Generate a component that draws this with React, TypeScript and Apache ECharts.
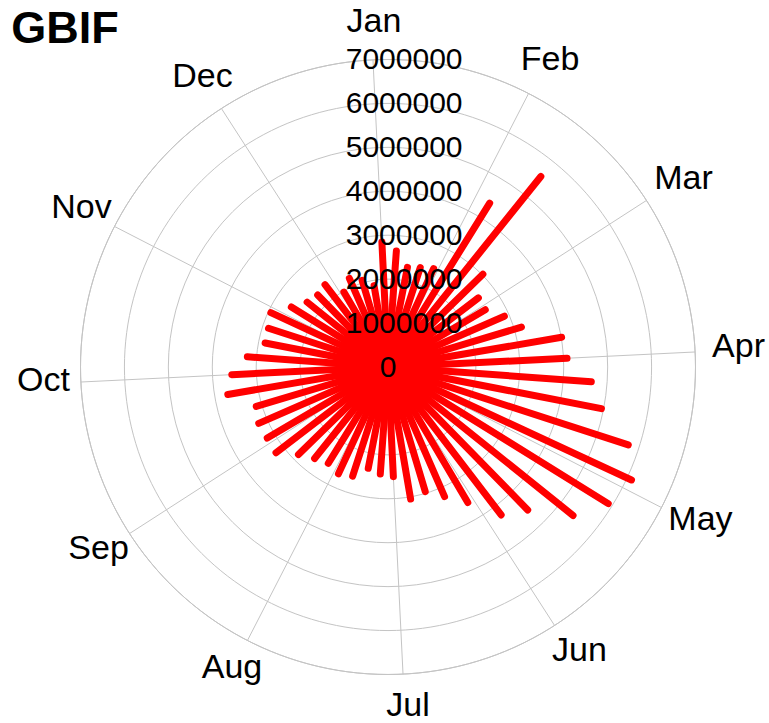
import React, { useEffect, useRef } from "react";
import * as echarts from "echarts";

const months = ["Jan", "Feb", "Mar", "Apr", "May", "Jun", "Jul", "Aug", "Sep", "Oct", "Nov", "Dec"];

// weekly record counts (52 weeks, week 1 at the Jan spoke)
const weeklyCounts = [
  2850000, 2650000, 2310000, 2380000, 2470000, 4390000, 5560000, 3020000, 2590000, 2570000,
  2890000, 3170000, 4010000, 4080000, 4640000, 4950000, 5750000, 6110000, 5900000, 5400000,
  4550000, 4240000, 3580000, 3220000, 2960000, 3050000, 2500000, 2440000, 2350000, 2610000,
  2680000, 2580000, 2670000, 2850000, 3210000, 3190000, 3210000, 3130000, 3700000, 3560000,
  3210000, 2850000, 2860000, 2940000, 2590000, 2360000, 2290000, 2360000, 1980000, 2200000,
  2060000, 1880000,
];

const radialTicks = [0, 1000000, 2000000, 3000000, 4000000, 5000000, 6000000, 7000000];

const FONT = "'Liberation Sans', Arial, Helvetica, sans-serif";
const GRID = "#c4c4c4";

export default function App() {
  const ref = useRef<HTMLDivElement>(null);

  useEffect(() => {
    if (!ref.current) return;
    const chart = echarts.init(ref.current, undefined, { renderer: "svg" });
    const rMax = radialTicks[radialTicks.length - 1];
    const nWeeks = weeklyCounts.length;

    const option: any = {
      animation: false,
      backgroundColor: "#ffffff",
      graphic: [
        {
          type: "text",
          x: 65,
          y: 27,
          style: {
            text: "GBIF",
            fontSize: 45,
            fontWeight: "bold",
            fontFamily: FONT,
            fill: "#000000",
            align: "center",
            verticalAlign: "middle",
          },
        },
      ],
      polar: { center: [388, 367], radius: 307.5 },
      angleAxis: {
        type: "value",
        min: 0,
        max: 12,
        interval: 1,
        startAngle: 92.8,
        clockwise: true,
        axisLine: { show: true, lineStyle: { color: GRID, width: 1 } },
        axisTick: { show: false },
        axisLabel: { show: false },
        splitLine: { show: true, lineStyle: { color: GRID, width: 1 } },
      },
      radiusAxis: {
        type: "value",
        min: 0,
        max: rMax,
        interval: 1000000,
        axisLine: { show: false },
        axisTick: { show: false },
        axisLabel: { show: false },
        splitLine: { show: true, lineStyle: { color: GRID, width: 1 } },
      },
      series: [
        {
          type: "custom",
          coordinateSystem: "polar",
          z: 2,
          clip: false,
          data: weeklyCounts.map((v, k) => [v, (k * 12) / nWeeks]),
          renderItem: (params: any, api: any) => {
            const v = api.value(0);
            const a = api.value(1);
            const p0 = api.coord([0, a]);
            const p1 = api.coord([v, a]);
            return {
              type: "line",
              shape: { x1: p0[0], y1: p0[1], x2: p1[0], y2: p1[1] },
              style: { stroke: "#ff0000", lineWidth: 7, lineCap: "round" },
            };
          },
        },
        {
          type: "custom",
          coordinateSystem: "polar",
          z: 4,
          clip: false,
          silent: true,
          data: months.map((m, i) => [rMax, i]),
          renderItem: (params: any, api: any) => {
            const i = params.dataIndex;
            const c = api.coord([0, 0]);
            const p = api.coord([api.value(0) * 1.112, api.value(1)]);
            return {
              type: "text",
              x: c[0] + (p[0] - c[0]) * 1.0175 + 3,
              y: p[1] - 5,
              style: {
                text: months[i],
                fontSize: 34,
                fontFamily: FONT,
                fill: "#000000",
                align: "center",
                verticalAlign: "middle",
              },
            };
          },
        },
        {
          type: "custom",
          coordinateSystem: "polar",
          z: 5,
          clip: false,
          silent: true,
          data: radialTicks.map((v) => [v, 0]),
          renderItem: (params: any, api: any) => {
            const v = api.value(0);
            const c = api.coord([0, 0]);
            const p = api.coord([v, 0]);
            const r = Math.hypot(p[0] - c[0], p[1] - c[1]);
            const text = String(v);
            const fs = 30;
            const dx = 0.161 * (text.length - 1) * 0.556 * fs;
            return {
              type: "text",
              x: c[0] + dx,
              y: c[1] - r - 1,
              style: {
                text,
                fontSize: fs,
                fontFamily: FONT,
                fill: "#000000",
                align: "center",
                verticalAlign: "middle",
              },
            };
          },
        },
      ],
    };

    chart.setOption(option);
    return () => {
      chart.dispose();
    };
  }, []);

  return (
    <div
      ref={ref}
      style={{ position: "absolute", left: 0, top: 0, width: 769, height: 723 }}
    />
  );
}
